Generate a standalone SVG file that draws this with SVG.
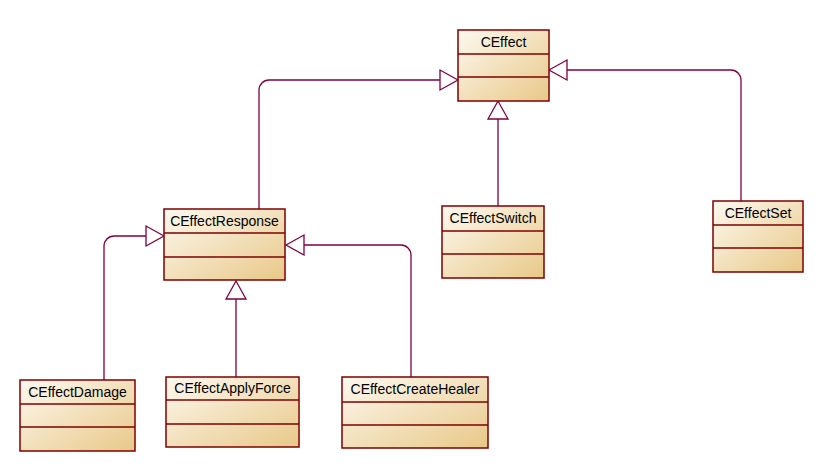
<svg xmlns="http://www.w3.org/2000/svg" width="840" height="472" viewBox="0 0 840 472">
<defs>
<linearGradient id="g" x1="0" y1="0" x2="1" y2="1">
<stop offset="0" stop-color="#fdf9f0"/>
<stop offset="1" stop-color="#e8c888"/>
</linearGradient>
<style>
.box{fill:url(#g);stroke:#7f0000;stroke-width:1.5}
.div{stroke:#7f0000;stroke-width:1.3}
.t{font-family:"Liberation Sans",Arial,sans-serif;font-size:14px;fill:#000;text-anchor:middle}
.c{fill:none;stroke:#800040;stroke-width:1.3}
.a{fill:#fff;stroke:#800040;stroke-width:1.3}
</style>
</defs>
<rect width="840" height="472" fill="#fff"/>
<g id="connectors">
<path class="c" d="M259,209 V90 A10,10 0 0 1 269,80 H440"/>
<polygon class="a" points="458,80 440,70 440,90"/>
<path class="c" d="M498,206 V119"/>
<polygon class="a" points="498,101 488,119 508,119"/>
<path class="c" d="M741,201 V80 A10,10 0 0 0 731,70 H567"/>
<polygon class="a" points="549,70 567,60 567,80"/>
<path class="c" d="M104,380 V246 A10,10 0 0 1 114,236 H146"/>
<polygon class="a" points="164,236 146,226 146,246"/>
<path class="c" d="M236,377 V299"/>
<polygon class="a" points="236,281 226,299 246,299"/>
<path class="c" d="M411,377 V255 A10,10 0 0 0 401,245 H304"/>
<polygon class="a" points="286,245 304,235 304,255"/>
</g>
<g id="CEffect">
<rect class="box" x="458" y="30" width="91" height="71"/>
<line class="div" x1="458" y1="54" x2="549" y2="54"/>
<line class="div" x1="458" y1="77" x2="549" y2="77"/>
<text class="t" x="503.5" y="47">CEffect</text>
</g>
<g id="CEffectResponse">
<rect class="box" x="164" y="209" width="121" height="71"/>
<line class="div" x1="164" y1="233" x2="285" y2="233"/>
<line class="div" x1="164" y1="257" x2="285" y2="257"/>
<text class="t" x="224.5" y="226">CEffectResponse</text>
</g>
<g id="CEffectSwitch">
<rect class="box" x="442" y="206" width="102" height="72"/>
<line class="div" x1="442" y1="231" x2="544" y2="231"/>
<line class="div" x1="442" y1="254" x2="544" y2="254"/>
<text class="t" x="493" y="223">CEffectSwitch</text>
</g>
<g id="CEffectSet">
<rect class="box" x="713" y="201" width="90" height="71"/>
<line class="div" x1="713" y1="225" x2="803" y2="225"/>
<line class="div" x1="713" y1="248" x2="803" y2="248"/>
<text class="t" x="758" y="218">CEffectSet</text>
</g>
<g id="CEffectDamage">
<rect class="box" x="20" y="380" width="115" height="71"/>
<line class="div" x1="20" y1="404" x2="135" y2="404"/>
<line class="div" x1="20" y1="427" x2="135" y2="427"/>
<text class="t" x="77.5" y="397">CEffectDamage</text>
</g>
<g id="CEffectApplyForce">
<rect class="box" x="166" y="377" width="133" height="70"/>
<line class="div" x1="166" y1="400" x2="299" y2="400"/>
<line class="div" x1="166" y1="424" x2="299" y2="424"/>
<text class="t" x="232.5" y="393">CEffectApplyForce</text>
</g>
<g id="CEffectCreateHealer">
<rect class="box" x="342" y="377" width="146" height="71"/>
<line class="div" x1="342" y1="402" x2="488" y2="402"/>
<line class="div" x1="342" y1="425" x2="488" y2="425"/>
<text class="t" x="415" y="394">CEffectCreateHealer</text>
</g>
</svg>
